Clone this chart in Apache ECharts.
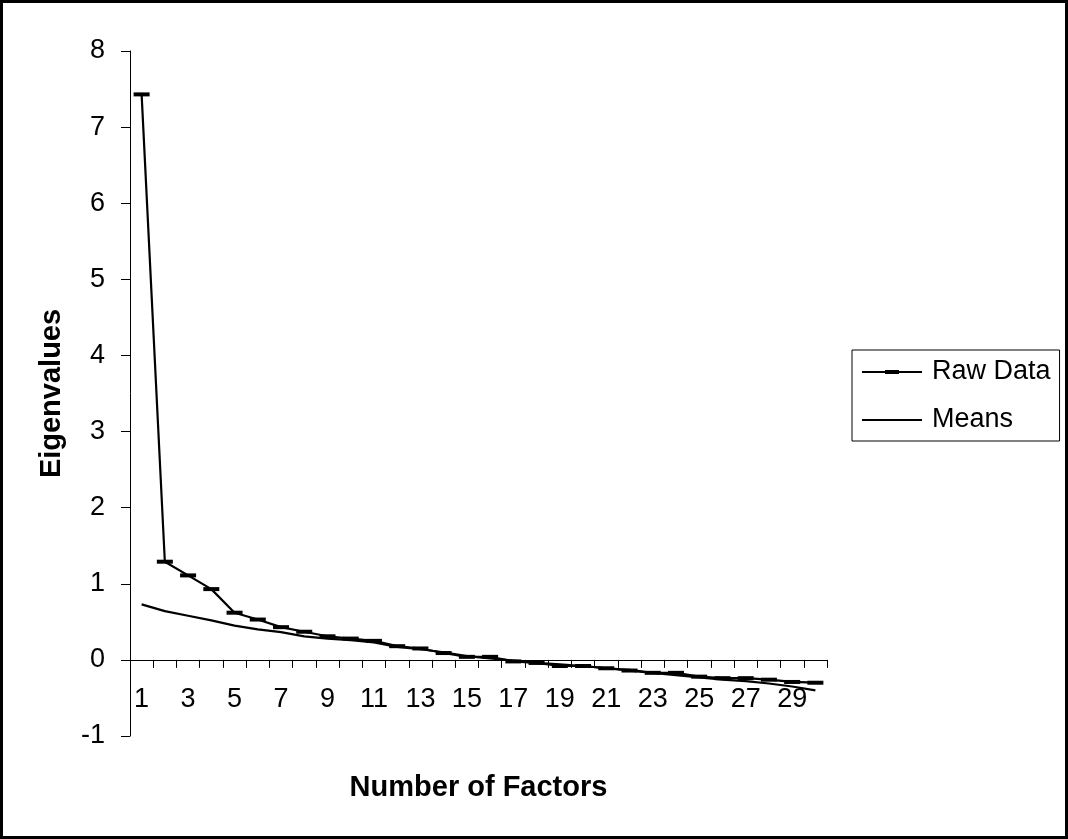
<!DOCTYPE html>
<html>
<head>
<meta charset="utf-8">
<title>Eigenvalues</title>
<script src="https://cdn.jsdelivr.net/npm/echarts@6/dist/echarts.min.js"></script>
<style>
	html, body { margin: 0; padding: 0; background: #fff; }
	#chart { width: 1068px; height: 839px; }
</style>
</head>
<body>
<div id="chart"></div>
<script>
// factor numbers on the x axis
var factors = [];
for (var i = 1; i <= 30; i++) factors.push(String(i));

// eigenvalues
var rawData = [7.43, 1.29, 1.11, 0.93, 0.62, 0.53, 0.43, 0.37, 0.31, 0.28,
	0.25, 0.18, 0.15, 0.09, 0.04, 0.04, -0.02, -0.04, -0.08, -0.08,
	-0.11, -0.14, -0.17, -0.17, -0.22, -0.24, -0.24, -0.26, -0.29, -0.30];
var means = [0.73, 0.64, 0.58, 0.52, 0.45, 0.40, 0.365, 0.31, 0.28, 0.26,
	0.23, 0.17, 0.14, 0.10, 0.05, 0.02, -0.01, -0.04, -0.06, -0.08,
	-0.11, -0.13, -0.17, -0.20, -0.23, -0.26, -0.28, -0.31, -0.35, -0.40];

var font = '"Liberation Sans", Arial, sans-serif';

// legend icons: line with a short thick dash, plain line
var rawIcon = 'path://M0,1 L23,1 L23,0 L37,0 L37,1 L60,1 L60,3 L37,3 L37,4 L23,4 L23,3 L0,3 Z';
var meanIcon = 'path://M0,0 L60,0 L60,2 L0,2 Z';

var chart = echarts.init(document.getElementById('chart'));
var option = {
	animation: false,
	textStyle: { fontFamily: font },
	graphic: [{
		type: 'rect',
		shape: { x: 1.5, y: 1.5, width: 1065, height: 836 },
		style: { fill: 'none', stroke: '#000', lineWidth: 3 },
		silent: true
	}],
	grid: {
		left: 130,
		right: 241,
		top: 51,
		bottom: 103,
		containLabel: false,
		outerBoundsMode: 'none'
	},
	legend: {
		orient: 'vertical',
		left: 852,
		top: 350,
		itemWidth: 60,
		itemHeight: 14,
		itemGap: 18,
		padding: [7, 9, 6, 10],
		borderColor: '#000',
		borderWidth: 1,
		symbolKeepAspect: true,
		textStyle: { fontFamily: font, fontSize: 27, color: '#000', lineHeight: 30, padding: [0, 0, 0, 5] },
		data: [
			{ name: 'Raw Data', icon: rawIcon, itemStyle: { color: '#000', borderWidth: 0 } },
			{ name: 'Means', icon: meanIcon, itemStyle: { color: '#000', borderWidth: 0 } }
		]
	},
	xAxis: {
		type: 'category',
		data: factors,
		boundaryGap: true,
		name: 'Number of Factors',
		nameLocation: 'middle',
		nameGap: 37,
		nameTextStyle: { fontFamily: font, fontSize: 29, fontWeight: 'bold', color: '#000' },
		axisLine: { onZero: true, lineStyle: { color: '#000', width: 1 } },
		axisTick: { show: true, interval: 0, alignWithLabel: false, length: 8, inside: false,
			lineStyle: { color: '#000' } },
		axisLabel: { interval: 1, margin: -50, fontFamily: font, fontSize: 27, color: '#000' },
		splitLine: { show: false }
	},
	yAxis: {
		type: 'value',
		min: -1,
		max: 8,
		interval: 1,
		name: 'Eigenvalues',
		nameLocation: 'middle',
		nameRotate: 90,
		nameGap: 64,
		nameTextStyle: { fontFamily: font, fontSize: 29, fontWeight: 'bold', color: '#000' },
		axisLine: { show: true, lineStyle: { color: '#000', width: 1 } },
		axisTick: { show: true, length: 9, lineStyle: { color: '#000' } },
		axisLabel: { margin: 25, fontFamily: font, fontSize: 27, color: '#000' },
		splitLine: { show: false }
	},
	series: [
		{
			name: 'Raw Data',
			type: 'line',
			data: rawData,
			symbol: 'rect',
			symbolSize: [16, 4],
			itemStyle: { color: '#000' },
			lineStyle: { color: '#000', width: 2.2 }
		},
		{
			name: 'Means',
			type: 'line',
			data: means,
			symbol: 'none',
			itemStyle: { color: '#000' },
			lineStyle: { color: '#000', width: 2.2 }
		}
	]
};
chart.setOption(option);
</script>
</body>
</html>
